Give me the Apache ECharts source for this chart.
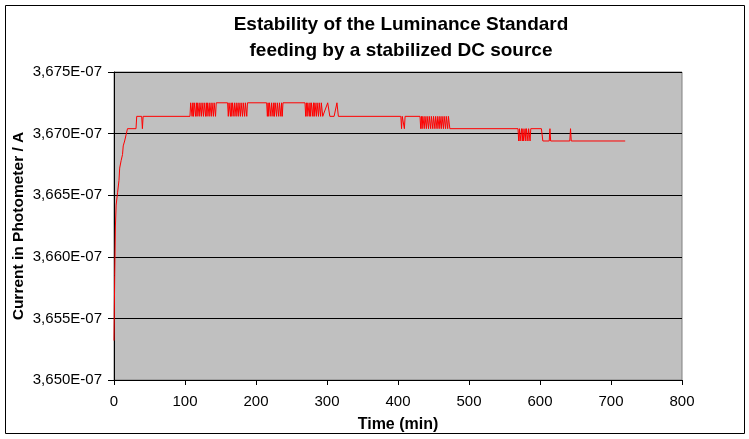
<!DOCTYPE html>
<html>
<head>
<meta charset="utf-8">
<script src="https://cdn.jsdelivr.net/npm/echarts@6/dist/echarts.min.js"></script>
<style>
html,body{margin:0;padding:0;background:#fff;}
#c{width:749px;height:439px;}
</style>
</head>
<body>
<div id="c"></div>
<script>
// Time in minutes
const timeMin = [
  0, 1, 2, 3, 5, 7, 8, 10, 12, 13, 15, 17, 19, 31, 32, 39, 40, 41,
  107, 108, 109, 110, 111, 112, 113, 115, 116, 117, 118, 120, 121, 123, 124, 126, 127, 129, 130, 131, 132, 134, 135, 137, 138, 140, 141, 143, 144,
  160, 161, 162, 164, 165, 166, 167, 169, 170, 172, 173, 175, 176, 178, 179, 181, 182, 184, 185, 187, 188,
  215, 216, 217, 218, 219, 221, 222, 224, 225, 226, 227, 229, 230, 232, 233, 235, 236, 237, 238,
  269, 270, 271, 272, 273, 275, 276, 277, 278, 280, 281, 282, 283, 285, 286, 288, 289, 291, 292, 294, 296, 301, 304, 310, 314, 316,
  404, 405, 406, 409, 410,
  431, 432, 433, 434, 435, 437, 438, 440, 441, 443, 444, 446, 447, 449, 450, 452, 453, 455, 456, 458, 459, 461, 462, 464, 465, 467, 468, 470, 471, 473,
  569, 570, 571, 572, 574, 575, 576, 577, 579, 580, 581, 583, 584, 586, 587, 589,
  602, 604, 613, 614, 615, 642, 643, 644, 720
];
// Current in photometer, in units of 1E-07 A
const currentE7 = [
  3.6532, 3.6585, 3.6625, 3.6642, 3.6652, 3.6662, 3.6672, 3.6678, 3.6683, 3.6690, 3.6694, 3.6699, 3.6704, 3.6704, 3.6714, 3.6714, 3.6704, 3.6714,
  3.6714, 3.6725, 3.6725, 3.6714, 3.6725, 3.6714, 3.6725, 3.6714, 3.6725, 3.6714, 3.6725, 3.6714, 3.6725, 3.6714, 3.6725, 3.6714, 3.6725, 3.6714, 3.6725, 3.6714, 3.6725, 3.6714, 3.6725, 3.6714, 3.6725, 3.6714, 3.6725, 3.6714, 3.6725,
  3.6725, 3.6714, 3.6725, 3.6714, 3.6725, 3.6714, 3.6725, 3.6714, 3.6725, 3.6714, 3.6725, 3.6714, 3.6725, 3.6714, 3.6725, 3.6714, 3.6725, 3.6714, 3.6725, 3.6714, 3.6725,
  3.6725, 3.6714, 3.6725, 3.6714, 3.6725, 3.6714, 3.6725, 3.6714, 3.6725, 3.6714, 3.6725, 3.6714, 3.6725, 3.6714, 3.6725, 3.6714, 3.6725, 3.6714, 3.6725,
  3.6725, 3.6714, 3.6725, 3.6714, 3.6725, 3.6714, 3.6725, 3.6714, 3.6725, 3.6714, 3.6725, 3.6714, 3.6725, 3.6714, 3.6725, 3.6714, 3.6725, 3.6714, 3.6725, 3.6714, 3.6714, 3.6725, 3.6714, 3.6714, 3.6725, 3.6714,
  3.6714, 3.6704, 3.6714, 3.6704, 3.6714,
  3.6714, 3.6704, 3.6714, 3.6704, 3.6714, 3.6704, 3.6714, 3.6704, 3.6714, 3.6704, 3.6714, 3.6704, 3.6714, 3.6704, 3.6714, 3.6704, 3.6714, 3.6704, 3.6714, 3.6704, 3.6714, 3.6704, 3.6714, 3.6704, 3.6714, 3.6704, 3.6714, 3.6704, 3.6714, 3.6704,
  3.6704, 3.6694, 3.6704, 3.6694, 3.6704, 3.6694, 3.6704, 3.6694, 3.6704, 3.6694, 3.6704, 3.6694, 3.6704, 3.6694, 3.6704, 3.6704,
  3.6704, 3.6694, 3.6694, 3.6704, 3.6694, 3.6694, 3.6704, 3.6694, 3.6694
];
const yTicks = [3.650, 3.655, 3.660, 3.665, 3.670, 3.675];
const xTicks = [0, 100, 200, 300, 400, 500, 600, 700, 800];

const seriesData = timeMin.map((t, i) => [t, currentE7[i]]);
const FONT = 'Liberation Sans, Arial, sans-serif';

const chart = echarts.init(document.getElementById('c'), null, {renderer: 'canvas'});
chart.setOption({
  animation: false,
  backgroundColor: '#ffffff',
  title: {
    text: 'Estability of the Luminance Standard\nfeeding by a stabilized DC source',
    left: 396,
    top: 7,
    textAlign: 'center',
    textStyle: {
      fontFamily: FONT,
      fontSize: 19,
      fontWeight: 'bold',
      color: '#000',
      lineHeight: 26
    }
  },
  graphic: [{
    type: 'rect',
    shape: {x: 5.5, y: 5.5, width: 739, height: 428},
    style: {fill: 'none', stroke: '#000', lineWidth: 1},
    silent: true,
    z: -1
  }],
  grid: {
    left: 114, right: 67, top: 72, bottom: 59,
    containLabel: false,
    outerBoundsMode: 'none',
    show: true,
    backgroundColor: '#C0C0C0',
    borderColor: '#808080',
    borderWidth: 1
  },
  xAxis: {
    type: 'value',
    min: xTicks[0], max: xTicks[xTicks.length - 1], interval: 100,
    name: 'Time (min)',
    nameLocation: 'middle',
    nameGap: 37,
    nameMoveOverlap: false,
    nameTextStyle: {fontFamily: FONT, fontSize: 16, fontWeight: 'bold', color: '#000'},
    axisLine: {show: true, onZero: false, lineStyle: {color: '#000', width: 1}},
    axisTick: {show: true, inside: false, length: 5, lineStyle: {color: '#000'}},
    axisLabel: {fontFamily: FONT, fontSize: 15, color: '#000', margin: 14},
    splitLine: {show: false}
  },
  yAxis: {
    type: 'value',
    min: yTicks[0], max: yTicks[yTicks.length - 1], interval: 0.005,
    name: 'Current in Photometer / A',
    nameLocation: 'middle',
    nameGap: 87,
    nameMoveOverlap: false,
    nameTextStyle: {fontFamily: FONT, fontSize: 15.5, fontWeight: 'bold', color: '#000'},
    axisLine: {show: true, onZero: false, lineStyle: {color: '#000', width: 1}},
    axisTick: {show: true, inside: false, length: 6, lineStyle: {color: '#000'}},
    axisLabel: {
      fontFamily: FONT, fontSize: 15, color: '#000', margin: 12,
      formatter: v => v.toFixed(3).replace('.', ',') + 'E-07'
    },
    splitLine: {show: true, lineStyle: {color: '#000', width: 1}}
  },
  series: [{
    type: 'line',
    data: seriesData,
    showSymbol: false,
    symbol: 'none',
    lineStyle: {color: '#FF0000', width: 1},
    clip: true
  }]
});
</script>
</body>
</html>
